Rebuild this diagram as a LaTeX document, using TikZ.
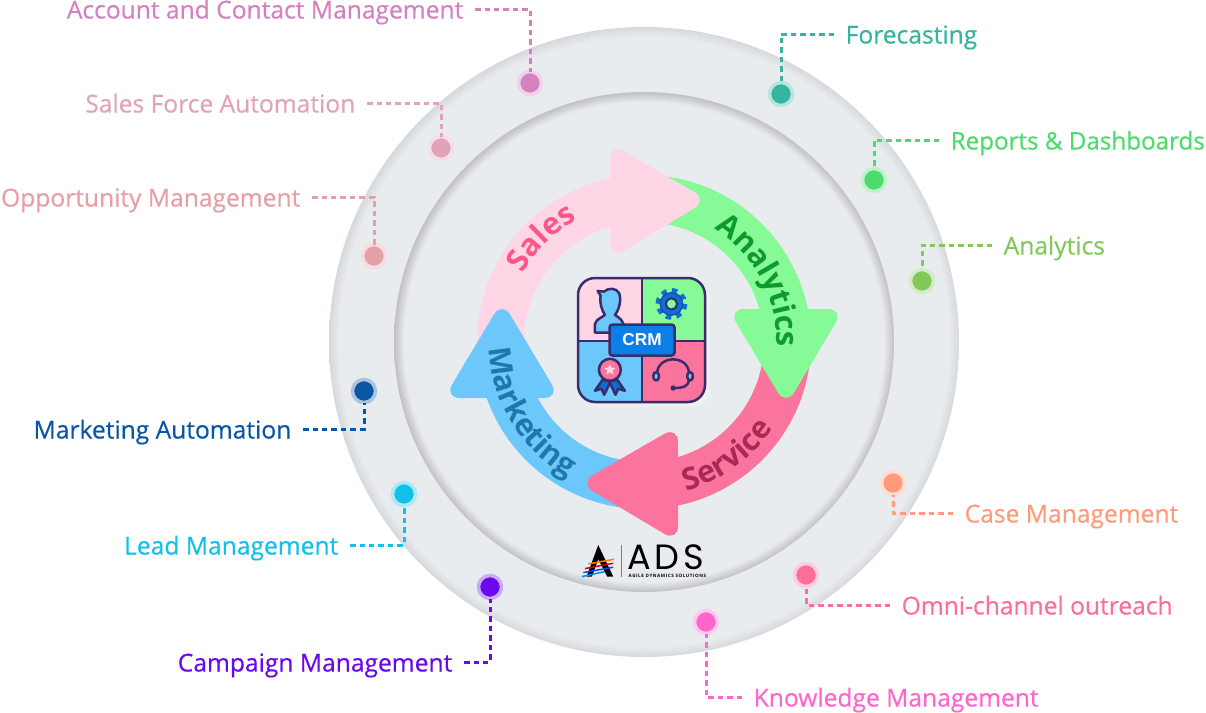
\documentclass[tikz,border=0pt]{standalone}
\usepackage{fontspec}
\setmainfont{Open Sans}
\newfontfamily\labfont[FakeBold=0.5]{Open Sans}
\newfontfamily\crmfont{Liberation Sans}
\newfontfamily\adsfont[LetterSpace=10]{Poppins}
\newfontfamily\adsnamefont[LetterSpace=12]{Open Sans}
\usetikzlibrary{positioning,calc,decorations.text}

\definecolor{discfill}{HTML}{E9ECEF}
\definecolor{outeredge}{HTML}{D6D8DB}
\definecolor{inneredge}{HTML}{BFC1C4}
\definecolor{crmblue}{HTML}{0A7FE8}
\definecolor{salesbody}{HTML}{FFD6E5}
\definecolor{analyticsbody}{HTML}{85FA97}
\definecolor{servicebody}{HTML}{FB749D}
\definecolor{marketingbody}{HTML}{6CC8FA}
\definecolor{iconline}{HTML}{3B2C6B}
\definecolor{gearblue}{HTML}{0A6FD8}
\definecolor{accountcol}{HTML}{D481C0}
\definecolor{salesforcecol}{HTML}{E2A3BA}
\definecolor{opportunitycol}{HTML}{E4A0A5}
\definecolor{mktautocol}{HTML}{0A56A4}
\definecolor{leadcol}{HTML}{14BFE9}
\definecolor{campaigncol}{HTML}{6A08EE}
\definecolor{forecastcol}{HTML}{35B49F}
\definecolor{reportscol}{HTML}{4CDC6C}
\definecolor{analyticscol}{HTML}{83C95A}
\definecolor{casecol}{HTML}{FF9B7B}
\definecolor{omnicol}{HTML}{FF6E99}
\definecolor{knowledgecol}{HTML}{FF66CC}

\pgfdeclareradialshading{outerrim}{\pgfpoint{0bp}{0bp}}{color(0bp)=(discfill); color(24.2bp)=(discfill); color(25bp)=(outeredge); color(50bp)=(outeredge)}
\pgfdeclareradialshading{innerrim}{\pgfpoint{0bp}{0bp}}{color(0bp)=(discfill); color(24bp)=(discfill); color(25bp)=(inneredge); color(50bp)=(inneredge)}

\tikzset{
  lab/.style={font=\labfont\fontsize{7.0pt}{8pt}\selectfont,inner xsep=0.11cm,inner ysep=0pt,text height=0.24cm,text depth=0.05cm},
  dot/.style={circle,inner sep=0pt,outer sep=0pt,minimum size=0.23cm,line width=0.035cm},
  conn/.style={line width=0.03cm,dash pattern=on 0.055cm off 0.04cm},
  iconedge/.style={draw=iconline,line width=0.025cm,line join=round}
}

\begin{document}
\begin{tikzpicture}
    \useasboundingbox (0,0) rectangle (12.06,7.12);
    \coordinate (c) at (6.44,3.70);

    \shade[shading=outerrim] (c) circle (3.15);
    \shade[shading=innerrim] (c) circle (2.50);

    \fill[salesbody] ($(c)+(180:1.67)$) arc (180:100:1.67) -- ($(c)+(100:1.20)$) arc (100:180:1.20) -- cycle;
    \fill[analyticsbody] ($(c)+(90:1.67)$) arc (90:5:1.67) -- ($(c)+(5:1.20)$) arc (5:90:1.20) -- cycle;
    \fill[servicebody] ($(c)+(0:1.67)$) arc (0:-85:1.67) -- ($(c)+(-85:1.20)$) arc (-85:0:1.20) -- cycle;
    \fill[marketingbody] ($(c)+(270:1.67)$) arc (270:190:1.67) -- ($(c)+(190:1.20)$) arc (190:270:1.20) -- cycle;

    \fill[salesbody,rounded corners=0.16cm] (6.10,5.12) -- (6.10,5.69) -- (7.08,5.12) -- (6.10,4.53) -- cycle;
    \fill[analyticsbody,rounded corners=0.16cm] (7.86,4.03) -- (8.44,4.03) -- (7.86,3.06) -- (7.28,4.03) -- cycle;
    \fill[servicebody,rounded corners=0.16cm] (6.78,2.28) -- (6.78,2.86) -- (5.79,2.29) -- (6.78,1.70) -- cycle;
    \fill[marketingbody,rounded corners=0.16cm] (5.02,3.14) -- (4.44,3.14) -- (5.02,4.11) -- (5.60,3.14) -- cycle;

    \path[postaction={decorate,decoration={text along path,text align=center,text={|\fontsize{8.7pt}{9pt}\selectfont\bfseries\color[HTML]{FF5588}|Sales}}}]
      ($(c)+(165:1.39)$) arc (165:104:1.39);
    \path[postaction={decorate,decoration={text along path,text align=center,text={|\fontsize{8.7pt}{9pt}\selectfont\bfseries\color[HTML]{0F9A2E}|Analytics}}}]
      ($(c)+(70:1.33)$) arc (70:-14:1.33);
    \path[postaction={decorate,decoration={text along path,text align=center,text={|\fontsize{8.7pt}{9pt}\selectfont\bfseries\color[HTML]{A82A56}|Service}}}]
      ($(c)+(-85:1.55)$) arc (-85:-23:1.55);
    \path[postaction={decorate,decoration={text along path,text align=center,text={|\fontsize{8.7pt}{9pt}\selectfont\bfseries\color[HTML]{1F78A8}|Marketing}}}]
      ($(c)+(171:1.55)$) arc (171:252:1.55);

    \fill[color=black!6,rounded corners=0.18cm] (5.83,3.05) rectangle (7.10,4.31);
    \begin{scope}
      \clip[rounded corners=0.17cm] (5.78,3.10) rectangle (7.05,4.34);
      \fill[salesbody] (5.78,3.71) rectangle (6.42,4.34);
      \fill[analyticsbody] (6.42,3.71) rectangle (7.05,4.34);
      \fill[marketingbody] (5.78,3.10) rectangle (6.42,3.71);
      \fill[servicebody] (6.42,3.10) rectangle (7.05,3.71);
    \end{scope}
    \draw[iconedge] (6.42,3.10) -- (6.42,4.34);
    \draw[iconedge] (5.78,3.71) -- (7.05,3.71);
    \draw[iconedge,rounded corners=0.17cm] (5.78,3.10) rectangle (7.05,4.34);

    \begin{scope}[shift={(5.60,4.47)},x=0.00333cm,y=-0.00333cm]
      \draw[iconedge,fill=marketingbody] (105,203) -- (105,178) .. controls (110,160) and (125,160) .. (135,150)
        .. controls (125,135) and (118,110) .. (122,92) -- (113,78) -- (132,80) .. controls (145,68) and (170,68) .. (178,85)
        .. controls (185,105) and (178,135) .. (165,150) .. controls (180,160) and (190,165) .. (193,190) -- (150,203) -- cycle;
      \draw[color=gearblue,line width=0.05cm,dash pattern=on 1.49pt off 1.49pt] (335,117) circle (40);
      \draw[draw=iconline!60!gearblue,fill=gearblue,line width=0.012cm] (335,117) circle (34);
      \draw[draw=iconline,fill=analyticsbody,line width=0.02cm] (335,117) circle (17);
      \draw[iconedge,fill=gearblue] (128,345) -- (105,378) -- (125,372) -- (133,390) -- (152,350) -- cycle;
      \draw[iconedge,fill=gearblue] (172,345) -- (195,378) -- (175,372) -- (167,390) -- (148,350) -- cycle;
      \draw[iconedge,fill=servicebody] (150,315) circle (33);
      \fill[salesbody] (150,297) -- (154.7,308.5) -- (167,309.4) -- (157.6,317.5) -- (160.6,329.6) -- (150,323) -- (139.4,329.6) -- (142.4,317.5) -- (133,309.4) -- (145.3,308.5) -- cycle;
      \draw[iconedge] (292,325) .. controls (295,270) and (385,270) .. (388,325);
      \draw[iconedge,fill=marketingbody,rounded corners=0.03cm] (281,322) rectangle (297,347);
      \draw[iconedge,fill=marketingbody,rounded corners=0.03cm] (383,322) rectangle (399,347);
      \draw[iconedge] (388,347) .. controls (385,365) and (370,370) .. (340,370);
      \fill[iconline] (340,370) circle (8);
    \end{scope}
    \node[draw=iconline,fill=crmblue,line width=0.025cm,rounded corners=0.03cm,minimum width=0.65cm,minimum height=0.31cm,inner sep=0pt,text=white,font=\crmfont\fontsize{4.9pt}{5pt}\selectfont\bfseries] (crm) at (6.42,3.72) {CRM};

    \begin{scope}[shift={(5.60,1.82)},x=0.00333cm,y=-0.00333cm]
      \fill[black] (115,45) -- (80,140) -- (96,140) -- (115,88) -- (142,140) -- (160,140) -- cycle;
      \draw[color=orange,line width=0.015cm] (85,102) -- (162,88);
      \draw[color=red!85!black,line width=0.015cm] (75,116) -- (160,100);
      \draw[color=blue!70!cyan,line width=0.015cm] (70,128) -- (160,112);
      \draw[color=cyan!70!blue,line width=0.015cm] (66,140) -- (135,125);
      \draw[color=gray,line width=0.005cm] (183,45) -- (183,140);
    \end{scope}
    \node[inner sep=0pt,anchor=base west,font=\adsfont\fontsize{10pt}{10pt}\selectfont] (ads) at (6.27,1.43) {ADS};
    \node[inner sep=0pt,anchor=base west,font=\adsnamefont\fontsize{1.3pt}{2pt}\selectfont\bfseries] (adsname) at (6.28,1.345) {AGILE DYNAMICS SOLUTIONS};

    \node[dot,fill=accountcol,draw=accountcol!35!white] (accountdot) at (5.30,6.29) {};
    \node[dot,fill=salesforcecol,draw=salesforcecol!35!white] (salesforcedot) at (4.41,5.64) {};
    \node[dot,fill=opportunitycol,draw=opportunitycol!35!white] (opportunitydot) at (3.74,4.56) {};
    \node[dot,fill=mktautocol,draw=mktautocol!35!white] (mktautodot) at (3.64,3.21) {};
    \node[dot,fill=leadcol,draw=leadcol!35!white] (leaddot) at (4.04,2.18) {};
    \node[dot,fill=campaigncol,draw=campaigncol!35!white] (campaigndot) at (4.90,1.25) {};
    \node[dot,fill=forecastcol,draw=forecastcol!35!white] (forecastdot) at (7.81,6.18) {};
    \node[dot,fill=reportscol,draw=reportscol!35!white] (reportsdot) at (8.74,5.32) {};
    \node[dot,fill=analyticscol,draw=analyticscol!35!white] (analyticsdot) at (9.22,4.31) {};
    \node[dot,fill=casecol,draw=casecol!35!white] (casedot) at (8.93,2.29) {};
    \node[dot,fill=omnicol,draw=omnicol!35!white] (omnidot) at (8.06,1.37) {};
    \node[dot,fill=knowledgecol,draw=knowledgecol!35!white] (knowledgedot) at (7.06,0.90) {};

    \node[lab,text=accountcol,anchor=east] (accountlab) at (4.75,7.03) {Account and Contact Management};
    \node[lab,text=salesforcecol,anchor=east] (salesforcelab) at (3.67,6.09) {Sales Force Automation};
    \node[lab,text=opportunitycol,anchor=east] (opportunitylab) at (3.12,5.15) {Opportunity Management};
    \node[lab,text=mktautocol,anchor=east] (mktautolab) at (3.03,2.83) {Marketing Automation};
    \node[lab,text=leadcol,anchor=east] (leadlab) at (3.50,1.67) {Lead Management};
    \node[lab,text=campaigncol,anchor=east] (campaignlab) at (4.64,0.50) {Campaign Management};
    \node[lab,text=forecastcol,anchor=west] (forecastlab) at (8.34,6.78) {Forecasting};
    \node[lab,text=reportscol,anchor=west,font=\labfont\fontsize{6.88pt}{8pt}\selectfont] (reportslab) at (9.39,5.72) {Reports \& Dashboards};
    \node[lab,text=analyticscol,anchor=west] (analyticslab) at (9.92,4.67) {Analytics};
    \node[lab,text=casecol,anchor=west] (caselab) at (9.53,1.99) {Case Management};
    \node[lab,text=omnicol,anchor=west] (omnilab) at (8.90,1.07) {Omni-channel outreach};
    \node[lab,text=knowledgecol,anchor=west] (knowledgelab) at (7.42,0.15) {Knowledge Management};

    \draw[conn,color=accountcol] (accountlab.east) -| (accountdot);
    \draw[conn,color=salesforcecol] (salesforcelab.east) -| (salesforcedot);
    \draw[conn,color=opportunitycol] (opportunitylab.east) -| (opportunitydot);
    \draw[conn,color=mktautocol] (mktautolab.east) -| (mktautodot);
    \draw[conn,color=leadcol] (leadlab.east) -| (leaddot);
    \draw[conn,color=campaigncol] (campaignlab.east) -| (campaigndot);
    \draw[conn,color=forecastcol] (forecastlab.west) -| (forecastdot);
    \draw[conn,color=reportscol] (reportslab.west) -| (reportsdot);
    \draw[conn,color=analyticscol] (analyticslab.west) -| (analyticsdot);
    \draw[conn,color=casecol] (caselab.west) -| (casedot);
    \draw[conn,color=omnicol] (omnilab.west) -| (omnidot);
    \draw[conn,color=knowledgecol] (knowledgelab.west) -| (knowledgedot);
\end{tikzpicture}
\end{document}
